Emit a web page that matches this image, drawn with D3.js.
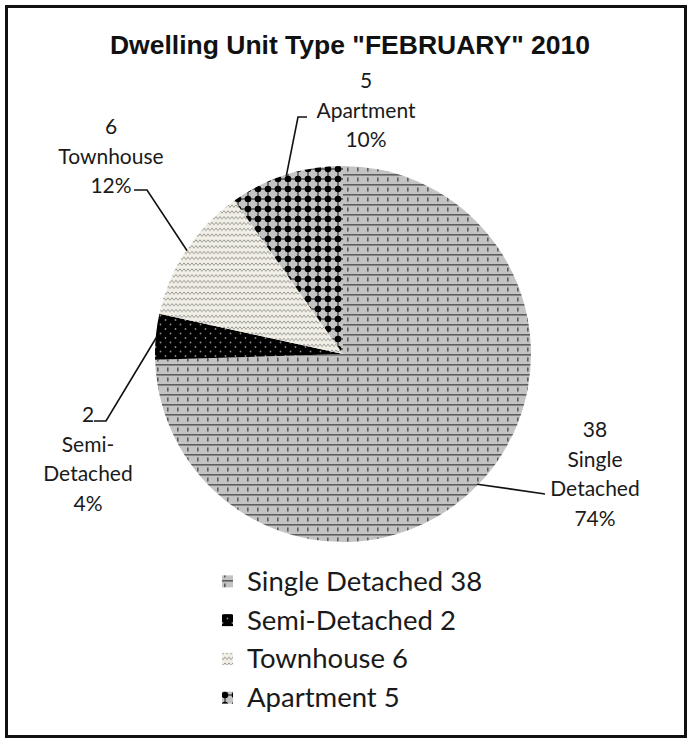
<!DOCTYPE html>
<html>
<head>
<meta charset="utf-8">
<script src="https://cdn.jsdelivr.net/npm/d3@7"></script>
<style>
  html, body { margin: 0; padding: 0; background: #fff; }
  svg { display: block; }
</style>
</head>
<body>
<svg id="chart" width="692" height="742"></svg>
<script>
// ---- data ----
const categories = ["Single Detached", "Semi-Detached", "Townhouse", "Apartment"];
const values = [38, 2, 6, 5];
const percentLabels = ["74%", "4%", "12%", "10%"];
const labelLines = [["Single", "Detached"], ["Semi-", "Detached"], ["Townhouse"], ["Apartment"]];
const titleText = 'Dwelling Unit Type "FEBRUARY" 2010';

// ---- layout ----
const W = 692, H = 742;
const cx = 343, cy = 354, R = 188;
const patternIds = ["pSingle", "pSemi", "pTown", "pApt"];
// label anchor (center x, first baseline y) and leader elbow points
const labelLayout = [
  { x: 595, y: 437, leader: [[545, 494]] },
  { x: 88, y: 422, leader: [[106, 421], [94, 421]] },
  { x: 111, y: 134, leader: [[147, 190], [134, 190]] },
  { x: 366, y: 88, leader: [[298, 117], [307, 117]] }
];
const lineH = 29.5;

const svg = d3.select("#chart");
const defs = svg.append("defs");

// Single Detached: gray with horizontal lines and dashes
const p1 = defs.append("pattern").attr("id", "pSingle").attr("patternUnits", "userSpaceOnUse")
  .attr("width", 10).attr("height", 10);
p1.append("rect").attr("width", 10).attr("height", 10).attr("fill", "#c3c3c3");
p1.append("rect").attr("x", 0).attr("y", 0).attr("width", 10).attr("height", 1.6).attr("fill", "#5e5e5e");
p1.append("rect").attr("x", 4).attr("y", 3.5).attr("width", 1.6).attr("height", 4).attr("fill", "#5a5a5a");

// Semi-Detached: black with small gray dots
const p2 = defs.append("pattern").attr("id", "pSemi").attr("patternUnits", "userSpaceOnUse")
  .attr("width", 10).attr("height", 9);
p2.append("rect").attr("width", 10).attr("height", 9).attr("fill", "#000");
p2.append("circle").attr("cx", 2.5).attr("cy", 2).attr("r", 0.9).attr("fill", "#8a8a8a");
p2.append("circle").attr("cx", 7.5).attr("cy", 6.5).attr("r", 0.9).attr("fill", "#8a8a8a");

// Townhouse: off-white with wavy lines
const p3 = defs.append("pattern").attr("id", "pTown").attr("patternUnits", "userSpaceOnUse")
  .attr("width", 4).attr("height", 5.8);
p3.append("rect").attr("width", 4).attr("height", 5.8).attr("fill", "#f2f0e6");
p3.append("path").attr("d", "M0,3 L1,1.8 L2,3 L3,4.2 L4,3").attr("fill", "none")
  .attr("stroke", "#7a7a7a").attr("stroke-width", 0.8);

// Apartment: gray with big black dots on a grid
const p4 = defs.append("pattern").attr("id", "pApt").attr("patternUnits", "userSpaceOnUse")
  .attr("width", 10).attr("height", 10);
p4.append("rect").attr("width", 10).attr("height", 10).attr("fill", "#c3c3c3");
p4.append("path").attr("d", "M0,5 H10 M5,0 V10").attr("stroke", "#111").attr("stroke-width", 1);
p4.append("circle").attr("cx", 5).attr("cy", 5).attr("r", 3.3).attr("fill", "#000");

// border
svg.append("rect").attr("x", 6.5).attr("y", 6.5).attr("width", 679).attr("height", 730)
  .attr("fill", "#fff").attr("stroke", "#111").attr("stroke-width", 3);

// title
svg.append("text").attr("x", 350).attr("y", 54).attr("text-anchor", "middle")
  .attr("font-family", "Liberation Sans, Arial, sans-serif").attr("font-weight", "bold")
  .attr("font-size", 26.5).attr("fill", "#111").text(titleText);

// pie
const data = categories.map((c, i) => ({ name: c, value: values[i], i }));
const pie = d3.pie().value(d => d.value).sort(null);
const arcs = pie(data);
const arc = d3.arc().innerRadius(0).outerRadius(R);
const edgeArc = d3.arc().innerRadius(R - 1).outerRadius(R - 1);

const g = svg.append("g").attr("transform", `translate(${cx},${cy})`);
g.selectAll("path.slice").data(arcs).join("path").attr("class", "slice")
  .attr("d", arc).attr("fill", d => `url(#${patternIds[d.data.i]})`);

// leader lines
const line = d3.line();
arcs.forEach(a => {
  const c = edgeArc.centroid(a);
  const pts = [[cx + c[0], cy + c[1]]].concat(labelLayout[a.data.i].leader);
  svg.append("path").attr("d", line(pts)).attr("fill", "none")
    .attr("stroke", "#111").attr("stroke-width", 1.6);
});

// data labels
arcs.forEach(a => {
  const i = a.data.i;
  const L = labelLayout[i];
  const lines = [String(values[i])].concat(labelLines[i]).concat([percentLabels[i]]);
  const t = svg.append("text").attr("text-anchor", "middle")
    .attr("font-family", "Lato, 'Open Sans', sans-serif").attr("font-size", 21).attr("fill", "#1a1a1a");
  lines.forEach((s, k) => {
    t.append("tspan").attr("x", L.x).attr("y", L.y + k * lineH).text(s);
  });
});

// legend
const legY = d3.scaleBand().domain(categories).range([562, 717]);
const leg = svg.append("g");
categories.forEach((c, i) => {
  const yc = legY(c) + legY.bandwidth() / 2;
  leg.append("rect").attr("x", 222).attr("y", yc - 6).attr("width", 11).attr("height", 12)
    .attr("fill", `url(#${patternIds[i]})`);
  leg.append("text").attr("x", 247).attr("y", yc + 9.5)
    .attr("font-family", "Lato, 'Open Sans', sans-serif").attr("font-size", 27.5).attr("fill", "#1a1a1a")
    .text(`${c} ${values[i]}`);
});
</script>
</body>
</html>
